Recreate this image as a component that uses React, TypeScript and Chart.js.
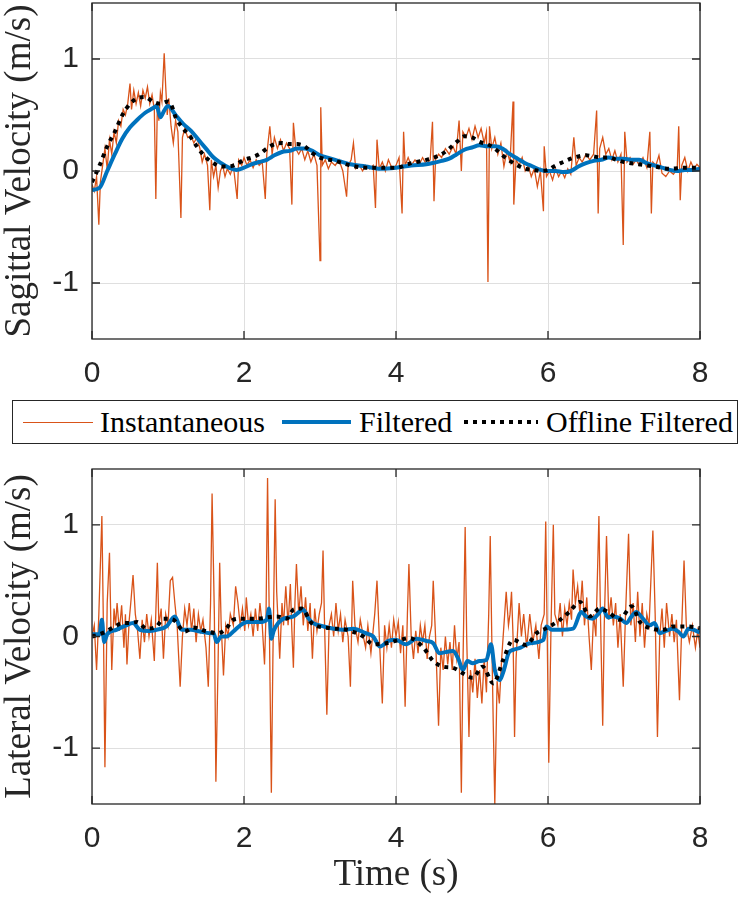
import { useEffect, useRef } from "react"
import { Chart, registerables, type ChartConfiguration, type Plugin } from "chart.js"

// Register Chart.js components
Chart.register(...registerables)

type Sample = [number, number] // [time (s), velocity (m/s)]

const timeTicks = [0, 2, 4, 6, 8]
const velocityTicks = [-1, 0, 1]

const sagittalInstantaneous: Sample[] = [
  [0, -0.12], [0.03, -0.18], [0.06, -0.05], [0.09, -0.48], [0.11, -0.1], [0.14, 0.05], [0.17, 0.2], [0.2, 0.02],
  [0.23, 0.28], [0.26, 0.15], [0.29, 0.35], [0.32, 0.25], [0.35, 0.45], [0.38, 0.4], [0.41, 0.55], [0.44, 0.5],
  [0.47, 0.6], [0.5, 0.78], [0.52, 0.55], [0.55, 0.72], [0.58, 0.6], [0.61, 0.7], [0.64, 0.58], [0.67, 0.72],
  [0.7, 0.65], [0.73, 0.75], [0.76, 0.6], [0.79, 0.68], [0.82, 0.55], [0.84, -0.25], [0.86, 0.6], [0.88, 0.45],
  [0.9, 0.7], [0.92, 0.62], [0.95, 1.05], [0.97, 0.75], [0.99, 0.5], [1.01, 0.65], [1.04, 0.4], [1.07, 0.25],
  [1.1, 0.45], [1.13, 0.35], [1.17, -0.42], [1.19, 0.3], [1.22, 0.38], [1.26, 0.3], [1.3, 0.32], [1.34, 0.25],
  [1.38, 0.3], [1.42, 0.2], [1.45, 0.08], [1.48, 0.15], [1.52, 0.05], [1.55, -0.35], [1.57, 0.1], [1.6, -0.05],
  [1.63, 0.05], [1.66, -0.15], [1.69, 0.0], [1.72, 0.05], [1.75, -0.05], [1.78, 0.02], [1.82, -0.03], [1.86, 0.05],
  [1.91, -0.25], [1.93, 0.1], [1.97, 0.05], [2.0, 0.12], [2.04, 0.05], [2.08, 0.1], [2.12, 0.03], [2.16, 0.1],
  [2.2, 0.05], [2.24, 0.08], [2.28, -0.25], [2.3, 0.15], [2.34, 0.4], [2.37, 0.15], [2.4, 0.3], [2.44, 0.2],
  [2.48, 0.28], [2.52, 0.18], [2.56, 0.25], [2.6, 0.2], [2.63, -0.3], [2.65, 0.43], [2.68, 0.2], [2.72, 0.15],
  [2.76, 0.2], [2.8, 0.1], [2.84, 0.18], [2.88, 0.08], [2.92, 0.15], [2.96, 0.05], [3.0, -0.8], [3.01, 0.57],
  [3.03, 0.05], [3.07, 0.1], [3.11, 0.02], [3.15, 0.08], [3.2, 0.05], [3.25, 0.1], [3.3, 0.0], [3.35, -0.23],
  [3.37, 0.05], [3.41, 0.1], [3.44, 0.25], [3.47, 0.02], [3.52, 0.05], [3.56, 0.0], [3.6, 0.05], [3.65, 0.02],
  [3.7, 0.05], [3.73, -0.33], [3.75, 0.28], [3.78, 0.02], [3.82, 0.08], [3.86, 0.0], [3.9, 0.1], [3.95, 0.02],
  [4.0, 0.05], [4.04, 0.12], [4.08, -0.38], [4.1, 0.35], [4.12, 0.05], [4.16, 0.12], [4.2, 0.05], [4.25, 0.1],
  [4.3, 0.05], [4.35, 0.12], [4.4, 0.06], [4.45, 0.1], [4.48, 0.44], [4.5, -0.27], [4.52, 0.1], [4.56, 0.15],
  [4.6, 0.12], [4.65, 0.2], [4.7, 0.15], [4.75, 0.22], [4.79, 0.15], [4.83, 0.45], [4.86, 0.0], [4.88, 0.35],
  [4.92, 0.3], [4.96, 0.38], [5.0, 0.28], [5.04, 0.4], [5.08, 0.3], [5.12, 0.38], [5.16, 0.25], [5.19, 0.35],
  [5.21, -0.99], [5.23, 0.4], [5.26, 0.2], [5.3, 0.3], [5.34, 0.15], [5.38, 0.25], [5.42, 0.04], [5.46, 0.18],
  [5.5, 0.08], [5.54, 0.62], [5.55, -0.3], [5.58, 0.1], [5.62, 0.05], [5.66, 0.12], [5.7, 0.0], [5.74, 0.05],
  [5.78, -0.05], [5.82, 0.02], [5.86, -0.14], [5.9, 0.0], [5.94, -0.36], [5.95, 0.22], [5.98, -0.05], [6.02, 0.0],
  [6.06, -0.08], [6.1, 0.02], [6.14, -0.05], [6.18, 0.0], [6.22, -0.06], [6.26, 0.02], [6.3, -0.03], [6.34, 0.3],
  [6.37, 0.05], [6.41, 0.12], [6.45, 0.08], [6.5, 0.15], [6.55, 0.1], [6.6, 0.15], [6.64, 0.54], [6.66, -0.38],
  [6.68, 0.2], [6.72, 0.3], [6.76, 0.15], [6.8, 0.2], [6.84, 0.1], [6.88, 0.18], [6.92, 0.08], [6.96, 0.15],
  [6.99, -0.66], [7.01, 0.35], [7.04, 0.08], [7.08, 0.12], [7.12, 0.06], [7.16, 0.1], [7.2, 0.05], [7.25, 0.12],
  [7.3, 0.03], [7.34, 0.35], [7.36, -0.38], [7.38, 0.08], [7.42, 0.05], [7.46, 0.14], [7.5, -0.02], [7.55, -0.05],
  [7.6, 0.0], [7.65, -0.03], [7.7, 0.02], [7.72, 0.4], [7.74, -0.26], [7.76, 0.05], [7.8, 0.12], [7.84, 0.0],
  [7.88, 0.08], [7.92, 0.02], [7.96, 0.06], [8.0, 0.03],
]

const sagittalFiltered: Sample[] = [
  [0, -0.17], [0.1, -0.15], [0.2, 0.0], [0.3, 0.15], [0.4, 0.29], [0.5, 0.39], [0.6, 0.46], [0.7, 0.52],
  [0.8, 0.56], [0.85, 0.58], [0.9, 0.48], [0.95, 0.54], [1.0, 0.58], [1.1, 0.5], [1.2, 0.42], [1.3, 0.36],
  [1.4, 0.28], [1.5, 0.2], [1.6, 0.12], [1.7, 0.07], [1.8, 0.03], [1.9, 0.01], [2.0, 0.03], [2.1, 0.06],
  [2.2, 0.08], [2.3, 0.1], [2.4, 0.14], [2.5, 0.17], [2.6, 0.18], [2.7, 0.2], [2.8, 0.2], [2.9, 0.18],
  [3.0, 0.14], [3.1, 0.12], [3.2, 0.1], [3.4, 0.06], [3.6, 0.04], [3.8, 0.02], [4.0, 0.03], [4.2, 0.05],
  [4.4, 0.06], [4.6, 0.09], [4.7, 0.11], [4.8, 0.15], [4.9, 0.19], [5.0, 0.21], [5.1, 0.23], [5.2, 0.22],
  [5.3, 0.22], [5.4, 0.2], [5.5, 0.15], [5.6, 0.11], [5.7, 0.07], [5.8, 0.04], [5.9, 0.01], [6.0, 0.0],
  [6.1, 0.0], [6.2, -0.01], [6.3, 0.0], [6.4, 0.04], [6.5, 0.07], [6.6, 0.09], [6.7, 0.1], [6.8, 0.12],
  [6.9, 0.11], [7.0, 0.11], [7.1, 0.1], [7.2, 0.1], [7.3, 0.07], [7.4, 0.05], [7.5, 0.03], [7.6, 0.01],
  [7.7, 0.0], [7.8, 0.01], [7.9, 0.01], [8.0, 0.02],
]

const sagittalOffline: Sample[] = [
  [0, -0.1], [0.1, 0.05], [0.2, 0.22], [0.3, 0.35], [0.4, 0.5], [0.5, 0.6], [0.6, 0.65], [0.7, 0.66],
  [0.8, 0.62], [0.9, 0.6], [1.0, 0.62], [1.05, 0.58], [1.1, 0.48], [1.2, 0.38], [1.3, 0.3], [1.4, 0.2],
  [1.5, 0.12], [1.6, 0.07], [1.7, 0.04], [1.8, 0.04], [1.9, 0.06], [2.0, 0.1], [2.1, 0.12], [2.2, 0.15],
  [2.3, 0.2], [2.4, 0.24], [2.5, 0.25], [2.6, 0.24], [2.7, 0.24], [2.8, 0.22], [2.9, 0.16], [3.0, 0.12],
  [3.2, 0.09], [3.4, 0.05], [3.6, 0.03], [3.8, 0.03], [4.0, 0.03], [4.2, 0.07], [4.4, 0.1], [4.6, 0.15],
  [4.7, 0.2], [4.8, 0.26], [4.9, 0.31], [5.0, 0.3], [5.1, 0.26], [5.2, 0.24], [5.3, 0.2], [5.4, 0.14],
  [5.5, 0.09], [5.6, 0.05], [5.7, 0.02], [5.8, 0.01], [5.9, 0.0], [6.0, 0.01], [6.1, 0.05], [6.2, 0.08],
  [6.3, 0.11], [6.4, 0.13], [6.5, 0.14], [6.6, 0.13], [6.7, 0.12], [6.8, 0.12], [6.9, 0.1], [7.0, 0.08],
  [7.2, 0.06], [7.4, 0.04], [7.6, 0.02], [7.8, 0.03], [8.0, 0.03],
]

const lateralInstantaneous: Sample[] = [
  [0, 0.0], [0.03, 0.1], [0.06, -0.3], [0.09, 0.2], [0.13, 1.08], [0.15, 0.1], [0.17, -1.17], [0.2, 0.3],
  [0.23, 0.75], [0.26, -0.3], [0.29, 0.25], [0.31, 0.1], [0.33, 0.3], [0.36, 0.05], [0.39, 0.28], [0.42, -0.1],
  [0.44, 0.2], [0.46, -0.25], [0.49, 0.15], [0.51, 0.3], [0.54, 0.55], [0.57, 0.2], [0.6, 0.05], [0.63, -0.2],
  [0.66, 0.15], [0.69, -0.05], [0.72, 0.2], [0.75, 0.0], [0.78, 0.15], [0.82, -0.22], [0.86, 0.66], [0.88, 0.1],
  [0.91, 0.25], [0.94, -0.2], [0.97, 0.2], [1.0, 0.1], [1.03, 0.5], [1.06, 0.53], [1.09, 0.3], [1.12, 0.1],
  [1.16, -0.45], [1.19, 0.0], [1.22, 0.25], [1.25, 0.1], [1.28, 0.3], [1.31, 0.05], [1.34, 0.25], [1.37, -0.05],
  [1.4, 0.2], [1.43, 0.05], [1.46, 0.15], [1.5, -0.1], [1.53, -0.45], [1.56, 0.3], [1.58, 1.28], [1.61, 0.2],
  [1.63, -1.3], [1.66, -0.2], [1.68, 0.66], [1.7, 0.1], [1.73, -0.35], [1.76, 0.1], [1.79, 0.0], [1.82, 0.2],
  [1.86, 0.1], [1.89, 0.45], [1.92, 0.3], [1.95, 0.1], [1.98, 0.25], [2.01, 0.05], [2.03, 0.35], [2.06, 0.1],
  [2.09, 0.2], [2.12, 0.0], [2.15, 0.25], [2.18, 0.05], [2.21, 0.3], [2.24, 0.1], [2.27, -0.25], [2.29, 0.2],
  [2.31, 1.42], [2.33, 0.3], [2.36, -1.4], [2.38, -0.2], [2.41, 1.23], [2.43, 0.4], [2.47, -0.2], [2.5, 0.3],
  [2.52, 0.1], [2.55, 0.45], [2.58, 0.1], [2.61, 0.47], [2.63, 0.05], [2.65, -0.28], [2.67, 0.3], [2.69, 0.65],
  [2.72, 0.2], [2.75, 0.45], [2.78, 0.1], [2.81, 0.35], [2.84, 0.05], [2.87, 0.3], [2.9, -0.2], [2.93, 0.25],
  [2.96, 0.05], [2.99, 0.2], [3.02, 0.3], [3.04, 0.77], [3.06, 0.1], [3.09, -0.7], [3.12, 0.1], [3.15, 0.2],
  [3.18, 0.0], [3.21, 0.3], [3.24, 0.05], [3.27, 0.2], [3.3, -0.05], [3.33, 0.15], [3.37, 0.0], [3.4, -0.45],
  [3.43, 0.5], [3.46, 0.1], [3.5, -0.05], [3.53, 0.15], [3.57, 0.0], [3.6, -0.1], [3.63, 0.1], [3.67, -0.15],
  [3.72, 0.2], [3.75, 0.5], [3.78, 0.0], [3.82, -0.6], [3.85, 0.1], [3.88, -0.1], [3.91, 0.1], [3.94, -0.1],
  [3.97, 0.15], [4.0, 0.0], [4.03, 0.13], [4.06, -0.15], [4.09, 0.1], [4.12, -0.63], [4.15, 0.2], [4.17, 0.65],
  [4.2, 0.0], [4.23, -0.2], [4.26, 0.05], [4.29, -0.15], [4.32, 0.1], [4.35, -0.05], [4.38, 0.1], [4.41, -0.2],
  [4.44, 0.0], [4.47, 0.1], [4.49, 0.5], [4.52, 0.0], [4.56, -0.8], [4.59, -0.1], [4.62, -0.3], [4.65, 0.0],
  [4.68, -0.25], [4.71, -0.05], [4.74, -0.3], [4.77, 0.1], [4.8, -0.2], [4.83, -0.05], [4.86, -1.4], [4.88, -0.3],
  [4.91, 0.98], [4.93, 0.0], [4.96, -0.9], [4.98, -0.3], [5.01, -0.5], [5.04, -0.2], [5.07, -0.55], [5.1, -0.3],
  [5.13, -0.6], [5.16, -0.2], [5.19, -0.5], [5.22, 0.2], [5.24, 0.9], [5.26, 0.0], [5.28, -0.8], [5.3, -1.5],
  [5.33, -0.4], [5.36, -0.6], [5.39, -0.2], [5.42, 0.1], [5.45, 0.4], [5.48, 0.1], [5.5, 0.2], [5.52, 0.4],
  [5.54, 0.0], [5.56, -0.9], [5.58, -0.2], [5.62, 0.3], [5.65, 0.0], [5.68, 0.2], [5.72, -0.1], [5.76, 0.2],
  [5.8, -0.05], [5.84, 0.1], [5.88, -0.2], [5.91, 0.1], [5.95, 0.2], [5.97, 1.03], [5.99, 0.0], [6.01, -1.13],
  [6.04, 0.1], [6.07, 1.0], [6.09, 0.2], [6.13, 0.1], [6.16, 0.3], [6.19, 0.0], [6.22, 0.25], [6.25, 0.1],
  [6.28, 0.3], [6.31, 0.15], [6.33, 0.6], [6.36, 0.3], [6.39, 0.45], [6.42, 0.2], [6.45, 0.5], [6.48, 0.1],
  [6.51, 0.35], [6.54, 0.0], [6.57, -0.3], [6.6, 0.2], [6.63, 0.0], [6.67, 1.08], [6.69, 0.2], [6.72, -0.8],
  [6.74, 0.1], [6.77, 0.9], [6.8, 0.15], [6.83, 0.35], [6.86, 0.1], [6.89, 0.3], [6.92, -0.1], [6.95, 0.2],
  [6.99, -0.45], [7.02, 0.2], [7.06, 0.92], [7.09, 0.1], [7.12, 0.3], [7.15, -0.05], [7.18, 0.4], [7.21, 0.0],
  [7.24, 0.3], [7.27, -0.1], [7.3, 0.2], [7.33, 0.1], [7.38, 0.95], [7.41, 0.2], [7.44, -0.9], [7.47, 0.0],
  [7.5, 0.25], [7.53, -0.1], [7.56, 0.3], [7.6, 0.0], [7.63, 0.2], [7.66, -0.05], [7.69, 0.15], [7.73, -0.57],
  [7.76, 0.1], [7.79, 0.68], [7.82, 0.1], [7.86, -0.05], [7.9, 0.1], [7.94, -0.1], [7.97, 0.05], [8.0, -0.1],
]

const lateralFiltered: Sample[] = [
  [0, 0.02], [0.06, 0.02], [0.1, 0.02], [0.13, 0.15], [0.16, -0.05], [0.2, 0.02], [0.32, 0.06], [0.45, 0.1],
  [0.54, 0.12], [0.63, 0.06], [0.75, 0.05], [0.85, 0.06], [0.98, 0.09], [1.09, 0.18], [1.18, 0.06], [1.3, 0.06],
  [1.42, 0.045], [1.55, 0.03], [1.6, 0.03], [1.64, -0.05], [1.7, 0.0], [1.77, 0.0], [1.86, 0.045], [1.95, 0.1],
  [2.04, 0.13], [2.21, 0.13], [2.3, 0.15], [2.33, 0.25], [2.36, -0.02], [2.39, 0.05], [2.45, 0.12], [2.52, 0.16],
  [2.65, 0.18], [2.78, 0.24], [2.85, 0.16], [2.91, 0.12], [3.05, 0.09], [3.18, 0.07], [3.3, 0.06], [3.44, 0.07],
  [3.6, 0.03], [3.7, 0.0], [3.79, -0.09], [3.9, -0.04], [4.0, -0.03], [4.13, -0.07], [4.27, -0.02], [4.4, -0.04],
  [4.49, -0.06], [4.57, -0.15], [4.65, -0.14], [4.75, -0.13], [4.82, -0.2], [4.88, -0.3], [4.94, -0.22], [5.01, -0.24],
  [5.1, -0.22], [5.19, -0.21], [5.25, -0.07], [5.3, -0.3], [5.36, -0.39], [5.42, -0.3], [5.48, -0.15], [5.54, -0.12],
  [5.64, -0.1], [5.76, -0.06], [5.94, -0.03], [5.98, 0.09], [6.05, 0.06], [6.16, 0.06], [6.33, 0.07], [6.44, 0.22],
  [6.5, 0.18], [6.59, 0.16], [6.66, 0.2], [6.72, 0.25], [6.79, 0.17], [6.86, 0.18], [6.95, 0.16], [7.03, 0.12],
  [7.1, 0.18], [7.16, 0.22], [7.25, 0.16], [7.34, 0.1], [7.4, 0.12], [7.47, 0.03], [7.55, 0.05], [7.64, 0.07],
  [7.72, 0.04], [7.78, 0.0], [7.85, 0.07], [7.92, 0.06], [8.0, 0.035],
]

const lateralOffline: Sample[] = [
  [0, 0.0], [0.1, 0.02], [0.2, 0.05], [0.3, 0.09], [0.41, 0.12], [0.5, 0.12], [0.59, 0.13], [0.72, 0.07],
  [0.85, 0.09], [0.94, 0.16], [1.07, 0.15], [1.22, 0.045], [1.33, 0.08], [1.51, 0.045], [1.66, 0.03], [1.77, 0.075],
  [1.86, 0.15], [1.99, 0.16], [2.17, 0.16], [2.43, 0.18], [2.56, 0.16], [2.65, 0.24], [2.76, 0.25], [2.89, 0.12],
  [3.13, 0.075], [3.35, 0.06], [3.57, 0.0], [3.7, -0.07], [3.87, -0.06], [4.05, -0.03], [4.18, -0.015], [4.36, -0.1],
  [4.49, -0.22], [4.62, -0.27], [4.75, -0.28], [4.88, -0.33], [5.01, -0.37], [5.14, -0.27], [5.28, -0.42], [5.41, -0.21],
  [5.54, -0.03], [5.71, -0.075], [5.85, 0.03], [5.98, 0.075], [6.16, 0.15], [6.28, 0.22], [6.42, 0.31], [6.55, 0.18],
  [6.68, 0.25], [6.81, 0.21], [6.94, 0.15], [7.1, 0.27], [7.21, 0.13], [7.34, 0.075], [7.52, 0.06], [7.64, 0.09],
  [7.82, 0.09], [8.0, 0.075],
]

const ORANGE = "#D95319"
const BLUE = "#0072BD"
const AXIS = "#262626"
const GRID = "#dfdfdf"
const SANS = "'Liberation Sans', Arial, Helvetica, sans-serif"
const SERIF = "'Liberation Serif', 'Times New Roman', serif"

// MATLAB-style box with inward tick marks on all four sides
const boxPlugin: Plugin<"line"> = {
  id: "matlabBox",
  afterDraw(chart) {
    const { ctx, chartArea: a, scales } = chart
    const len = 8
    ctx.save()
    ctx.strokeStyle = AXIS
    ctx.lineWidth = 1.3
    ctx.strokeRect(a.left, a.top, a.right - a.left, a.bottom - a.top)
    ctx.beginPath()
    for (const v of timeTicks) {
      const px = scales.x.getPixelForValue(v)
      ctx.moveTo(px, a.bottom)
      ctx.lineTo(px, a.bottom - len)
      ctx.moveTo(px, a.top)
      ctx.lineTo(px, a.top + len)
    }
    for (const v of velocityTicks) {
      const py = scales.y.getPixelForValue(v)
      ctx.moveTo(a.left, py)
      ctx.lineTo(a.left + len, py)
      ctx.moveTo(a.right, py)
      ctx.lineTo(a.right - len, py)
    }
    ctx.stroke()
    ctx.restore()
  },
}

const toPoints = (s: Sample[]) => s.map(([x, y]) => ({ x, y }))

interface VelocityPlotProps {
  instantaneous: Sample[]
  filtered: Sample[]
  offline: Sample[]
  yTitle: string
  xTitle?: string
  top: number
  height: number
  padTop: number
  xAxisHeight: number
}

function VelocityPlot({ instantaneous, filtered, offline, yTitle, xTitle, top, height, padTop, xAxisHeight }: VelocityPlotProps) {
  const canvasRef = useRef<HTMLCanvasElement>(null)

  useEffect(() => {
    if (!canvasRef.current) return
    const config: ChartConfiguration<"line"> = {
      type: "line",
      data: {
        datasets: [
          {
            label: "Instantaneous",
            data: toPoints(instantaneous),
            borderColor: ORANGE,
            borderWidth: 1.3,
            pointRadius: 0,
            tension: 0,
            clip: 0,
            order: 2,
          },
          {
            label: "Filtered",
            data: toPoints(filtered),
            borderColor: BLUE,
            borderWidth: 4,
            pointRadius: 0,
            cubicInterpolationMode: "monotone",
            clip: 0,
            order: 1,
          },
          {
            label: "Offline Filtered",
            data: toPoints(offline),
            borderColor: "#000000",
            borderWidth: 4,
            borderDash: [4, 5],
            borderCapStyle: "butt",
            pointRadius: 0,
            cubicInterpolationMode: "monotone",
            clip: 0,
            order: 0,
          },
        ],
      },
      options: {
        responsive: false,
        animation: false,
        layout: { padding: { top: padTop, right: 47, left: 0, bottom: 0 } },
        plugins: { legend: { display: false }, tooltip: { enabled: false } },
        scales: {
          x: {
            type: "linear",
            min: 0,
            max: 8,
            afterBuildTicks: (scale) => {
              scale.ticks = timeTicks.map((value) => ({ value }))
            },
            afterFit: (scale) => {
              scale.height = xAxisHeight
              scale.paddingLeft = 0
              scale.paddingRight = 0
            },
            grid: { color: GRID, lineWidth: 1, drawTicks: false },
            border: { display: false },
            ticks: {
              color: AXIS,
              padding: 17,
              autoSkip: false,
              maxRotation: 0,
              font: { family: SANS, size: 30 },
            },
            title: {
              display: !!xTitle,
              text: xTitle ?? "",
              color: AXIS,
              padding: { top: 0, bottom: 7 },
              font: { family: SERIF, size: 37, lineHeight: 1.1 },
            },
          },
          y: {
            type: "linear",
            min: -1.5,
            max: 1.5,
            afterBuildTicks: (scale) => {
              scale.ticks = velocityTicks.map((value) => ({ value }))
            },
            afterFit: (scale) => {
              scale.width = 92
              scale.paddingTop = 0
              scale.paddingBottom = 0
            },
            grid: { color: GRID, lineWidth: 1, drawTicks: false },
            border: { display: false },
            ticks: {
              color: AXIS,
              padding: 13,
              font: { family: SANS, size: 30 },
            },
            title: {
              display: true,
              text: yTitle,
              color: AXIS,
              padding: 0,
              font: { family: SERIF, size: 37, lineHeight: 1.1 },
            },
          },
        },
      },
      plugins: [boxPlugin],
    }
    const chart = new Chart(canvasRef.current, config)
    return () => chart.destroy()
  }, [instantaneous, filtered, offline, yTitle, xTitle, padTop, xAxisHeight])

  return (
    <canvas
      ref={canvasRef}
      width={747}
      height={height}
      style={{ position: "absolute", left: 0, top, width: 747, height }}
    />
  )
}

function Legend() {
  const text = { position: "absolute" as const, top: 0, height: 42, lineHeight: "42px", fontFamily: SERIF, fontSize: 30, color: "#000" }
  return (
    <div
      style={{
        position: "absolute",
        left: 12,
        top: 400,
        width: 724,
        height: 42,
        border: `1.3px solid ${AXIS}`,
        background: "#fff",
      }}
    >
      <div style={{ position: "absolute", left: 10, top: 20.5, width: 70, height: 1.3, background: ORANGE }} />
      <span style={{ ...text, left: 87 }}>Instantaneous</span>
      <div style={{ position: "absolute", left: 269, top: 19, width: 69, height: 4, background: BLUE }} />
      <span style={{ ...text, left: 346 }}>Filtered</span>
      <div
        style={{
          position: "absolute",
          left: 451,
          top: 19,
          width: 74,
          height: 4,
          background: "repeating-linear-gradient(to right, #000 0 4px, transparent 4px 9px)",
        }}
      />
      <span style={{ ...text, left: 533 }}>Offline Filtered</span>
    </div>
  )
}

export default function App() {
  return (
    <div style={{ position: "absolute", left: 0, top: 0, width: 747, height: 903, background: "#fff" }}>
      <VelocityPlot
        instantaneous={sagittalInstantaneous}
        filtered={sagittalFiltered}
        offline={sagittalOffline}
        yTitle="Sagittal Velocity (m/s)"
        top={0}
        height={395}
        padTop={3}
        xAxisHeight={56}
      />
      <Legend />
      <VelocityPlot
        instantaneous={lateralInstantaneous}
        filtered={lateralFiltered}
        offline={lateralOffline}
        yTitle="Lateral Velocity (m/s)"
        xTitle="Time (s)"
        top={450}
        height={453}
        padTop={19}
        xAxisHeight={99}
      />
    </div>
  )
}
